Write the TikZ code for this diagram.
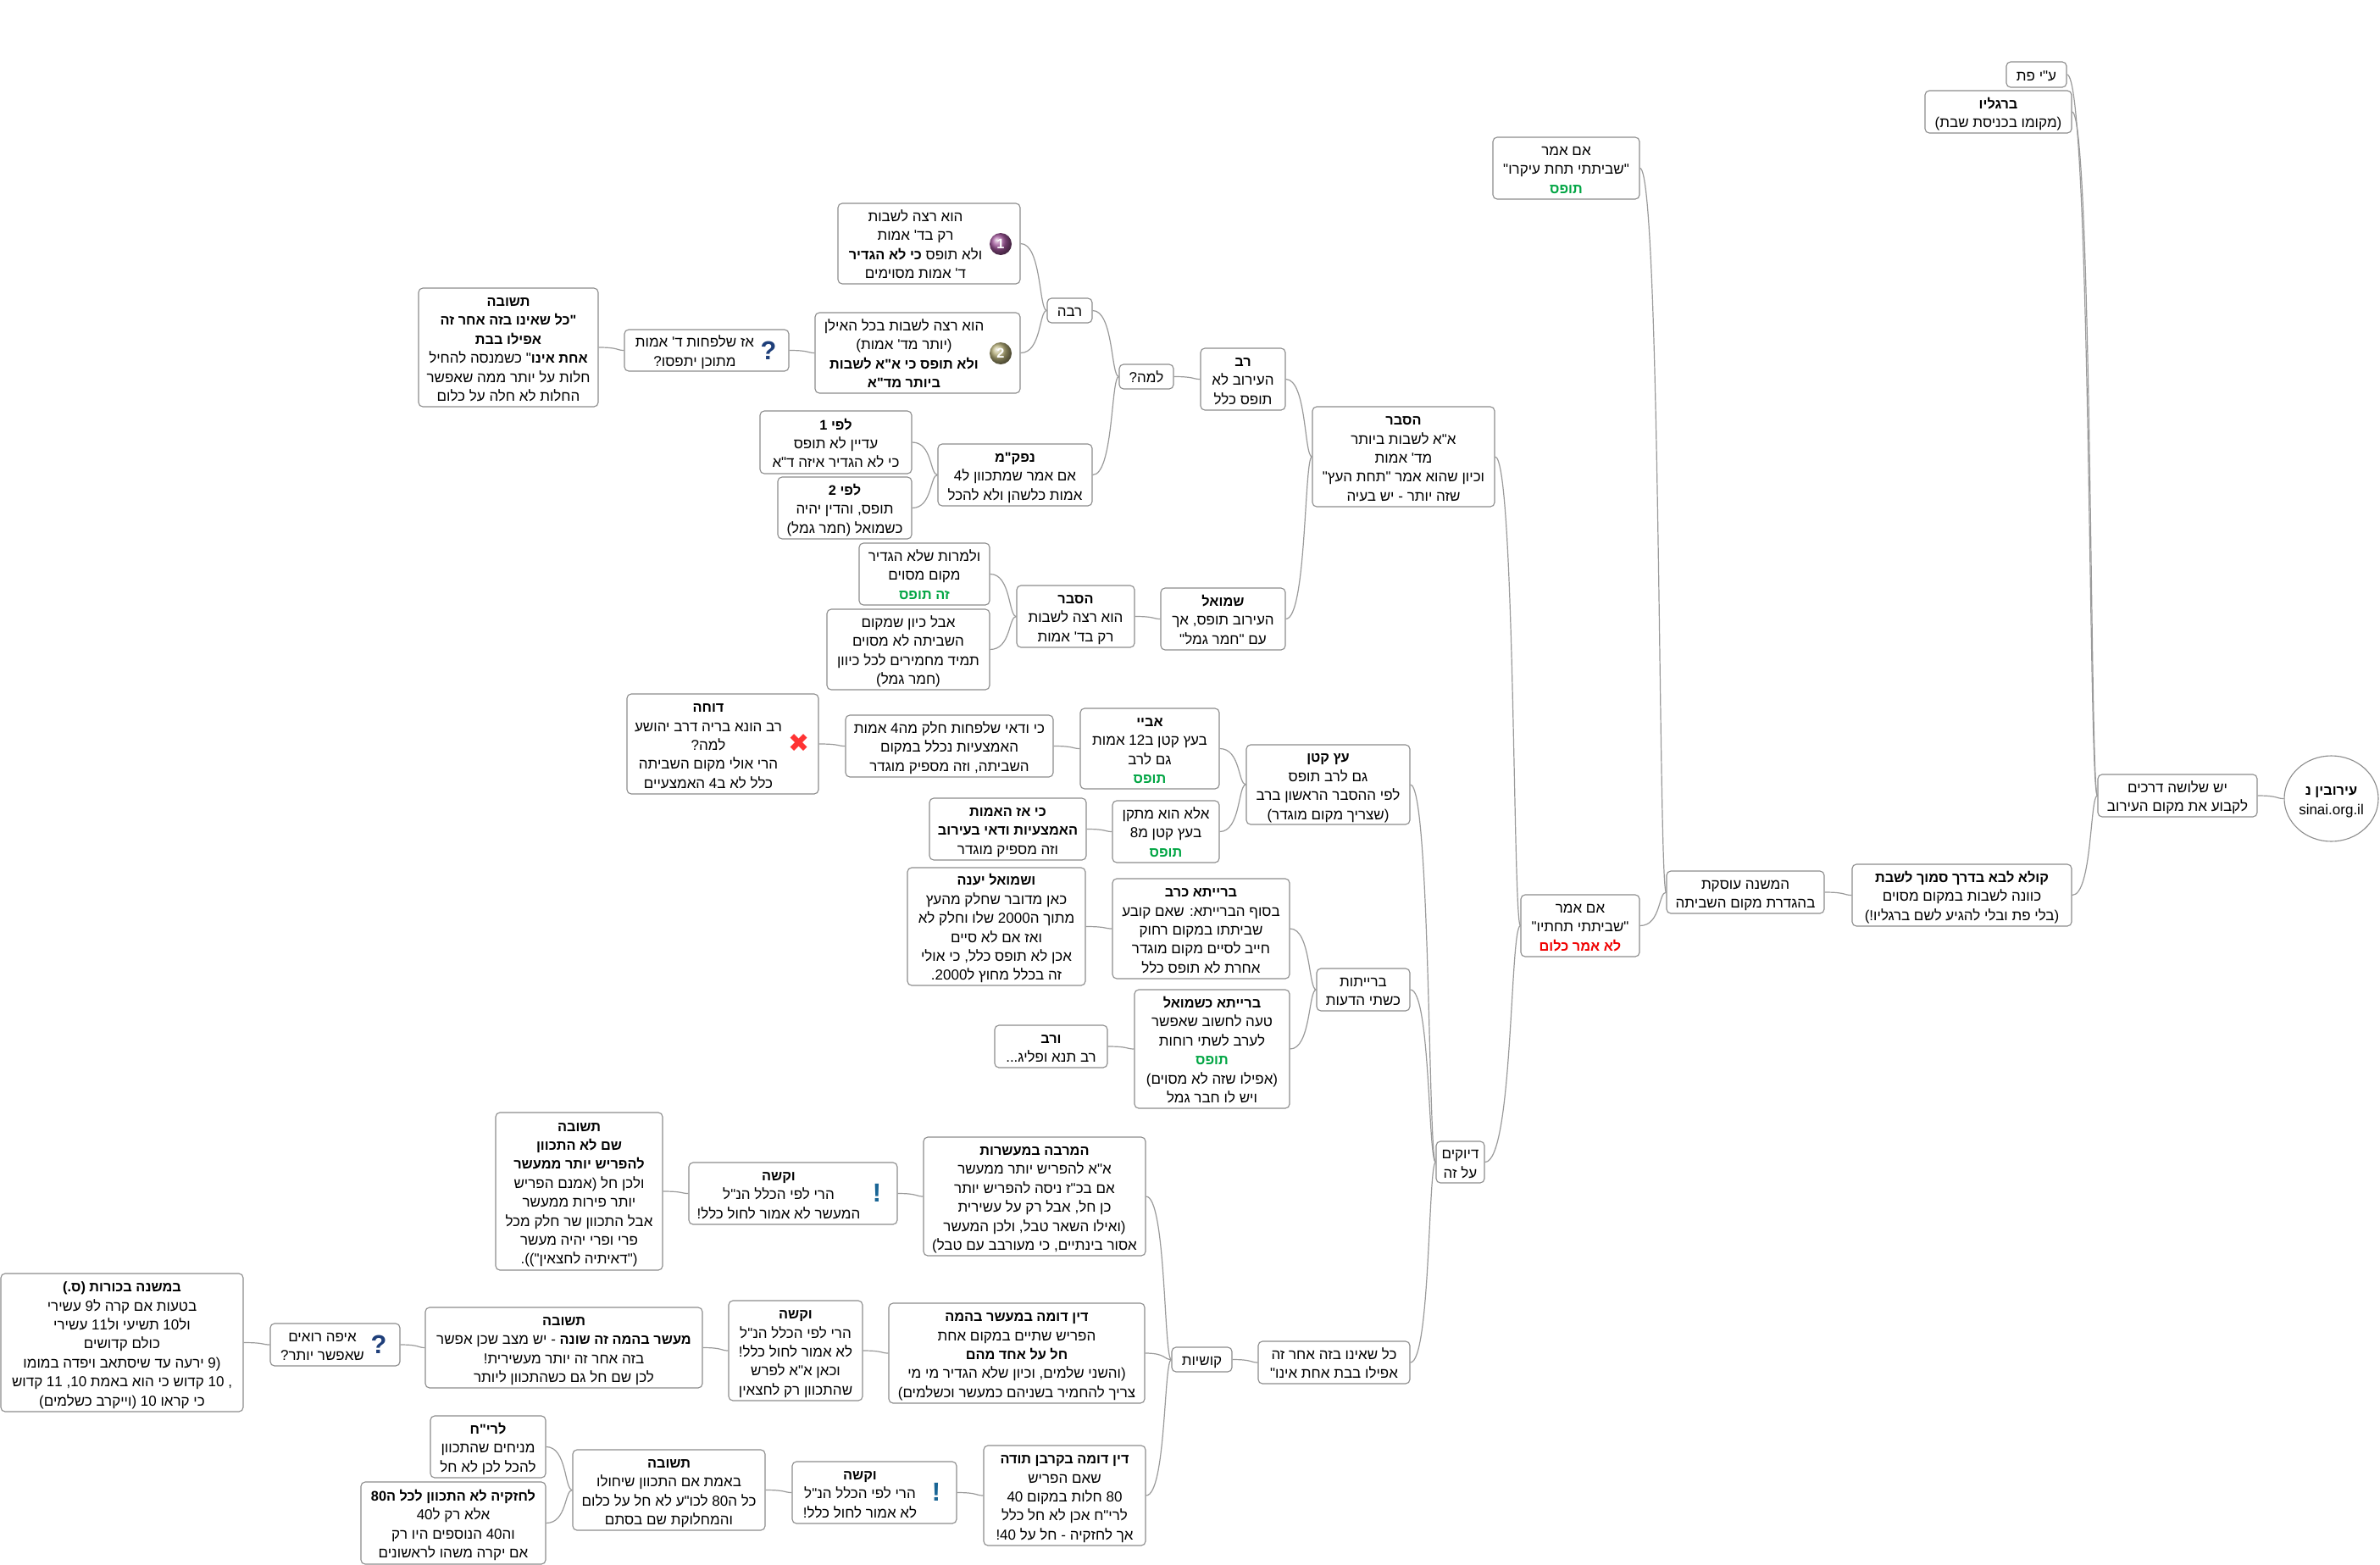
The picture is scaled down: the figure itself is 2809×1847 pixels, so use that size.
\documentclass[tikz,border=0pt]{standalone}
\usepackage{fontspec}
\usetikzlibrary{calc,shapes.geometric,shadings}
\TeXXeTstate=1
\newfontfamily\hebf[Script=Hebrew,BoldFeatures={Scale=0.96}]{Liberation Sans}
\newfontfamily\symf{DejaVu Sans}
\definecolor{okgreen}{HTML}{00A543}
\definecolor{nored}{HTML}{F00000}
\definecolor{edgegray}{HTML}{8C8C8C}
\definecolor{linegray}{HTML}{9A9A9A}
\definecolor{iconblue}{HTML}{1F3F7A}
\definecolor{ballpurple}{HTML}{A0559A}
\definecolor{ballolive}{HTML}{B5AE78}
\newcommand\mystrut{\rule[-3.8pt]{0pt}{22.4pt}}
\newcommand\hb[1]{\mystrut\beginR #1\endR{}}
\newcommand\ltr[1]{\beginL#1\endL{}}
\newcommand\hbg[1]{\textcolor{okgreen}{\hb{\textbf{#1}}}}
\newcommand\hbr[1]{\textcolor{nored}{\hb{\textbf{#1}}}}
\newcommand\shiftbox[2]{{\def\arraystretch{0}\begin{tabular}{@{}c@{}}#2\end{tabular}}\hspace*{#1pt}}
\tikzset{
  mbox/.style={draw=edgegray,line width=1.1pt,rounded corners=5pt,fill=white,inner sep=0pt,align=center,
    font=\hebf\fontsize{17}{22.4}\selectfont},
  cnline/.style={draw=linegray,line width=1.2pt},
  icontxt/.style={inner sep=0pt,text=iconblue,font=\hebf\bfseries\fontsize{32}{32}\selectfont},
  ballicon/.style={circle,inner sep=0pt,minimum size=26pt,text=white,font=\hebf\bfseries\fontsize{17}{17}\selectfont}
}
\newcommand\nd[6]{\node[mbox,minimum width={(#4-#2)*1pt},minimum height={(#5-#3)*1pt}] (#1) at ({(#2+#4)/2},{-(#3+#5)/2}) {#6};}
\newcommand\cn[2]{\draw[cnline] let \p1=(#1.east),\p2=(#2.west),\n1={\x2-\x1} in (\p1) .. controls ({\x1+0.8*\n1},\y1) and ({\x1+0.7*\n1},\y2) .. (\p2);}
\begin{document}
\begin{tikzpicture}[x=1pt,y=1pt]
\useasboundingbox (0,0) rectangle (2809,-1847);
\fill[white] (0,0) rectangle (2809,-1847);

\node[ellipse,draw=edgegray,line width=1.1pt,fill=white,inner sep=0pt,minimum width=111pt,minimum height=101pt,align=center,font=\hebf\fontsize{17}{22.4}\selectfont] (root) at (2751.5,-942.5) {\hb{\textbf{עירובין נ}}\\\mystrut sinai.org.il};

\nd{three}{2476}{914}{2664}{964}{\hb{יש שלושה דרכים}\\\hb{לקבוע את מקום העירוב}}
\nd{pat}{2368}{73}{2439}{103}{\hb{ע"י פת}}
\nd{feet}{2272}{107}{2445}{157}{\hb{\textbf{ברגליו}}\\\hb{(מקומו בכניסת שבת)}}
\nd{kula}{2186}{1020}{2445}{1093}{\hb{\textbf{קולא לבא בדרך סמוך לשבת}}\\\hb{כוונה לשבות במקום מסוים}\\\hb{(בלי פת ובלי להגיע לשם ברגליו!)}}
\nd{mishna}{1967}{1028}{2153}{1078}{\hb{המשנה עוסקת}\\\hb{בהגדרת מקום השביתה}}
\nd{ikaro}{1762}{162}{1935}{235}{\hb{אם אמר}\\\hb{"שביתתי תחת עיקרו"}\\\hbg{תופס}}
\nd{tahtav}{1795}{1056}{1935}{1129}{\hb{אם אמר}\\\hb{"שביתתי תחתיו"}\\\hbr{לא אמר כלום}}
\nd{hesber}{1549}{480}{1764}{598}{\hb{\textbf{הסבר}}\\\hb{א"א לשבות ביותר}\\\hb{מד' אמות}\\\hb{וכיון שהוא אמר "תחת העץ"}\\\hb{שזה יותר - יש בעיה}}
\nd{rav}{1417}{411}{1517}{484}{\hb{\textbf{רב}}\\\hb{העירוב לא}\\\hb{תופס כלל}}
\nd{lama}{1321}{430}{1385}{459}{\hb{למה?}}
\nd{rava}{1236}{352}{1289}{381}{\hb{רבה}}
\nd{opta}{989}{240}{1204}{335}{\shiftbox{32}{\hb{הוא רצה לשבות}\\\hb{רק בד' אמות}\\\hb{ולא תופס \textbf{כי לא הגדיר}}\\\hb{ד' אמות מסוימים}}}
\nd{optb}{962}{369}{1204}{464}{\shiftbox{32}{\hb{הוא רצה לשבות בכל האילן}\\\hb{(יותר מד' אמות)}\\\hb{\textbf{ולא תופס כי א"א לשבות}}\\\hb{\textbf{ביותר מד"א}}}}
\nd{azsh}{737}{389}{931}{438}{\shiftbox{28}{\hb{אז שלפחות ד' אמות}\\\hb{מתוכן יתפסו?}}}
\nd{tsh}{494}{340}{706}{480}{\hb{\textbf{תשובה}}\\\hb{\textbf{"כל שאינו בזה אחר זה}}\\\hb{\textbf{אפילו בבת}}\\\hb{\textbf{אחת אינו}" כשמנסה להחיל}\\\hb{חלות על יותר ממה שאפשר}\\\hb{החלות לא חלה על כלום}}
\nd{nafka}{1107}{524}{1289}{597}{\hb{\textbf{נפק"מ}}\\\hb{אם אמר שמתכוון ל\ltr{4}}\\\hb{אמות כלשהן ולא להכל}}
\nd{lefia}{897}{485}{1076}{559}{\hb{\textbf{לפי \ltr{1}}}\\\hb{עדיין לא תופס}\\\hb{כי לא הגדיר איזה ד"א}}
\nd{lefib}{918}{563}{1076}{636}{\hb{\textbf{לפי \ltr{2}}}\\\hb{תופס, והדין יהיה}\\\hb{כשמואל (חמר גמל)}}
\nd{shmuel}{1370}{694}{1517}{767}{\hb{\textbf{שמואל}}\\\hb{העירוב תופס, אך}\\\hb{עם "חמר גמל"}}
\nd{hesb}{1200}{691}{1339}{764}{\hb{\textbf{הסבר}}\\\hb{הוא רצה לשבות}\\\hb{רק בד' אמות}}
\nd{lamrot}{1014}{641}{1168}{714}{\hb{ולמרות שלא הגדיר}\\\hb{מקום מסוים}\\\hbg{זה תופס}}
\nd{aval}{976}{719}{1168}{814}{\hb{אבל כיון שמקום}\\\hb{השביתה לא מסוים}\\\hb{תמיד מחמירים לכל כיוון}\\\hb{(חמר גמל)}}
\nd{dyukim}{1695}{1347}{1752}{1396}{\hb{דיוקים}\\\hb{על זה}}
\nd{etz}{1471}{879}{1664}{973}{\hb{\textbf{עץ קטן}}\\\hb{גם לרב תופס}\\\hb{לפי ההסבר הראשון ברב}\\\hb{(שצריך מקום מוגדר)}}
\nd{abaye}{1275}{836}{1439}{931}{\hb{\textbf{אביי}}\\\hb{בעץ קטן ב\ltr{12} אמות}\\\hb{גם לרב}\\\hbg{תופס}}
\nd{vadai}{998}{844}{1243}{917}{\hb{כי ודאי שלפחות חלק מה\ltr{4} אמות}\\\hb{האמצעיות נכלל במקום}\\\hb{השביתה, וזה מספיק מוגדר}}
\nd{doche}{740}{819}{966}{937}{\shiftbox{34}{\hb{\textbf{דוחה}}\\\hb{רב הונא בריה דרב יהושע}\\\hb{למה?}\\\hb{הרי אולי מקום השביתה}\\\hb{כלל לא ב\ltr{4} האמצעיים}}}
\nd{ela}{1313}{945}{1439}{1018}{\hb{אלא הוא מתקן}\\\hb{בעץ קטן מ\ltr{8}}\\\hbg{תופס}}
\nd{kiaz}{1097}{942}{1282}{1015}{\hb{\textbf{כי אז האמות}}\\\hb{\textbf{האמצעיות ודאי בעירוב}}\\\hb{וזה מספיק מוגדר}}
\nd{braytot}{1554}{1143}{1664}{1193}{\hb{ברייתות}\\\hb{כשתי הדעות}}
\nd{kerav}{1313}{1037}{1522}{1155}{\hb{\textbf{ברייתא כרב}}\\\hb{בסוף הברייתא: שאם קובע}\\\hb{שביתתו במקום רחוק}\\\hb{חייב לסיים מקום מוגדר}\\\hb{אחרת לא תופס כלל}}
\nd{yaane}{1071}{1024}{1281}{1163}{\hb{\textbf{ושמואל יענה}}\\\hb{כאן מדובר שחלק מהעץ}\\\hb{מתוך ה\ltr{2000} שלו וחלק לא}\\\hb{ואז אם לא סיים}\\\hb{אכן לא תופס כלל, כי אולי}\\\hb{זה בכלל מחוץ ל\ltr{2000}.}}
\nd{kesh}{1339}{1168}{1522}{1308}{\hb{\textbf{ברייתא כשמואל}}\\\hb{טעה לחשוב שאפשר}\\\hb{לערב לשתי רוחות}\\\hbg{תופס}\\\hb{(אפילו שזה לא מסוים)}\\\hb{ויש לו חבר גמל}}
\nd{verav}{1174}{1210}{1307}{1260}{\hb{\textbf{ורב}}\\\hb{רב תנא ופליג...}}
\nd{kol}{1485}{1583}{1664}{1633}{\hb{כל שאינו בזה אחר זה}\\\hb{אפילו בבת אחת אינו"}}
\nd{kushyot}{1383}{1590}{1454}{1619}{\hb{קושיות}}
\nd{marbe}{1090}{1342}{1352}{1482}{\hb{\textbf{המרבה במעשרות}}\\\hb{א"א להפריש יותר ממעשר}\\\hb{אם בכ"ז ניסה להפריש יותר}\\\hb{כן חל, אבל רק על עשירית}\\\hb{(ואילו השאר טבל, ולכן המעשר}\\\hb{אסור בינתיים, כי מעורבב עם טבל)}}
\nd{kashea}{813}{1372}{1059}{1445}{\shiftbox{34}{\hb{\textbf{וקשה}}\\\hb{הרי לפי הכלל הנ"ל}\\\hb{המעשר לא אמור לחול כלל!}}}
\nd{tsha}{585}{1313}{782}{1499}{\hb{\textbf{תשובה}}\\\hb{\textbf{שם לא התכוון}}\\\hb{\textbf{להפריש יותר ממעשר}}\\\hb{ולכן חל (אמנם הפריש}\\\hb{יותר פירות ממעשר}\\\hb{אבל התכוון שר חלק מכל}\\\hb{פרי ופרי יהיה מעשר}\\\hb{("דאיתיה לחצאין")).}}
\nd{din}{1049}{1538}{1351}{1656}{\hb{\textbf{דין דומה במעשר בהמה}}\\\hb{הפריש שתיים במקום אחת}\\\hb{\textbf{חל על אחד מהם}}\\\hb{(והשני שלמים, וכיון שלא הגדיר מי מי}\\\hb{צריך להחמיר בשניהם כמעשר וכשלמים)}}
\nd{kasheb}{860}{1535}{1018}{1653}{\hb{\textbf{וקשה}}\\\hb{הרי לפי הכלל הנ"ל}\\\hb{לא אמור לחול כלל!}\\\hb{וכאן א"א לפרש}\\\hb{שהתכוון רק לחצאין}}
\nd{tshb}{502}{1543}{829}{1638}{\hb{\textbf{תשובה}}\\\hb{\textbf{מעשר בהמה זה שונה} - יש מצב שכן אפשר}\\\hb{בזה אחר זה יותר מעשירית!}\\\hb{לכן שם חל גם כשהתכוון ליותר}}
\nd{eifo}{319}{1562}{472}{1612}{\shiftbox{30}{\hb{איפה רואים}\\\hb{שאפשר יותר?}}}
\nd{bechor}{1}{1503}{287}{1666}{\hb{\textbf{במשנה בכורות (ס.)}}\\\hb{בטעות אם קרה ל\ltr{9} עשירי}\\\hb{ול\ltr{10} תשיעי ול\ltr{11} עשירי}\\\hb{כולם קדושים}\\\hb{(\ltr{9} ירעה עד שיסתאב ויפדה במומו}\\\hb{, \ltr{10} קדוש כי הוא באמת \ltr{10}, \ltr{11} קדוש}\\\hb{כי קראו \ltr{10} (וייקרב כשלמים)}}
\nd{toda}{1161}{1706}{1352}{1824}{\hb{\textbf{דין דומה בקרבן תודה}}\\\hb{שאם הפריש}\\\hb{\ltr{80} חלות במקום \ltr{40}}\\\hb{לרי"ח אכן לא חל כלל}\\\hb{אך לחזקיה - חל על \ltr{40}!}}
\nd{kashec}{935}{1725}{1129}{1798}{\shiftbox{34}{\hb{\textbf{וקשה}}\\\hb{הרי לפי הכלל הנ"ל}\\\hb{לא אמור לחול כלל!}}}
\nd{tshc}{676}{1711}{903}{1806}{\hb{\textbf{תשובה}}\\\hb{באמת אם התכוון שיחולו}\\\hb{כל ה\ltr{80} לכו"ע לא חל על כלום}\\\hb{והמחלוקת שם בסתם}}
\nd{rih}{508}{1671}{644}{1744}{\hb{\textbf{לרי"ח}}\\\hb{מניחים שהתכוון}\\\hb{להכל לכן לא חל}}
\nd{hizk}{426}{1749}{644}{1846}{\hb{\textbf{לחזקיה לא התכוון לכל ה\ltr{80}}}\\\hb{אלא רק ל\ltr{40}}\\\hb{וה\ltr{40} הנוספים היו רק}\\\hb{אם יקרה משהו לראשונים}}

% icons
\node[ballicon,shading=ball,ball color=ballpurple] (icona) at (1181,-288) {1};
\node[ballicon,shading=ball,ball color=ballolive] (iconb) at (1181,-417) {2};
\node[icontxt] (iconq) at (907,-414) {?};
\node[inner sep=0pt,text=red!80!white,font=\symf\fontsize{30}{30}\selectfont] (iconx) at (943,-877) {✖};
\node[icontxt,text=iconblue!80!cyan] (icone) at (1035,-1408) {!};
\node[icontxt] (iconr) at (447,-1587) {?};
\node[icontxt,text=iconblue!80!cyan] (iconf) at (1105,-1761) {!};

% connectors: child east to parent west
\cn{three}{root}
\cn{pat}{three}
\cn{feet}{three}
\cn{kula}{three}
\cn{mishna}{kula}
\cn{ikaro}{mishna}
\cn{tahtav}{mishna}
\cn{hesber}{tahtav}
\cn{dyukim}{tahtav}
\cn{rav}{hesber}
\cn{shmuel}{hesber}
\cn{lama}{rav}
\cn{rava}{lama}
\cn{nafka}{lama}
\cn{opta}{rava}
\cn{optb}{rava}
\cn{azsh}{optb}
\cn{tsh}{azsh}
\cn{lefia}{nafka}
\cn{lefib}{nafka}
\cn{hesb}{shmuel}
\cn{lamrot}{hesb}
\cn{aval}{hesb}
\cn{etz}{dyukim}
\cn{braytot}{dyukim}
\cn{kol}{dyukim}
\cn{abaye}{etz}
\cn{ela}{etz}
\cn{vadai}{abaye}
\cn{doche}{vadai}
\cn{kiaz}{ela}
\cn{kerav}{braytot}
\cn{kesh}{braytot}
\cn{yaane}{kerav}
\cn{verav}{kesh}
\cn{kushyot}{kol}
\cn{marbe}{kushyot}
\cn{din}{kushyot}
\cn{toda}{kushyot}
\cn{kashea}{marbe}
\cn{tsha}{kashea}
\cn{kasheb}{din}
\cn{tshb}{kasheb}
\cn{eifo}{tshb}
\cn{bechor}{eifo}
\cn{kashec}{toda}
\cn{tshc}{kashec}
\cn{rih}{tshc}
\cn{hizk}{tshc}
\end{tikzpicture}
\end{document}
